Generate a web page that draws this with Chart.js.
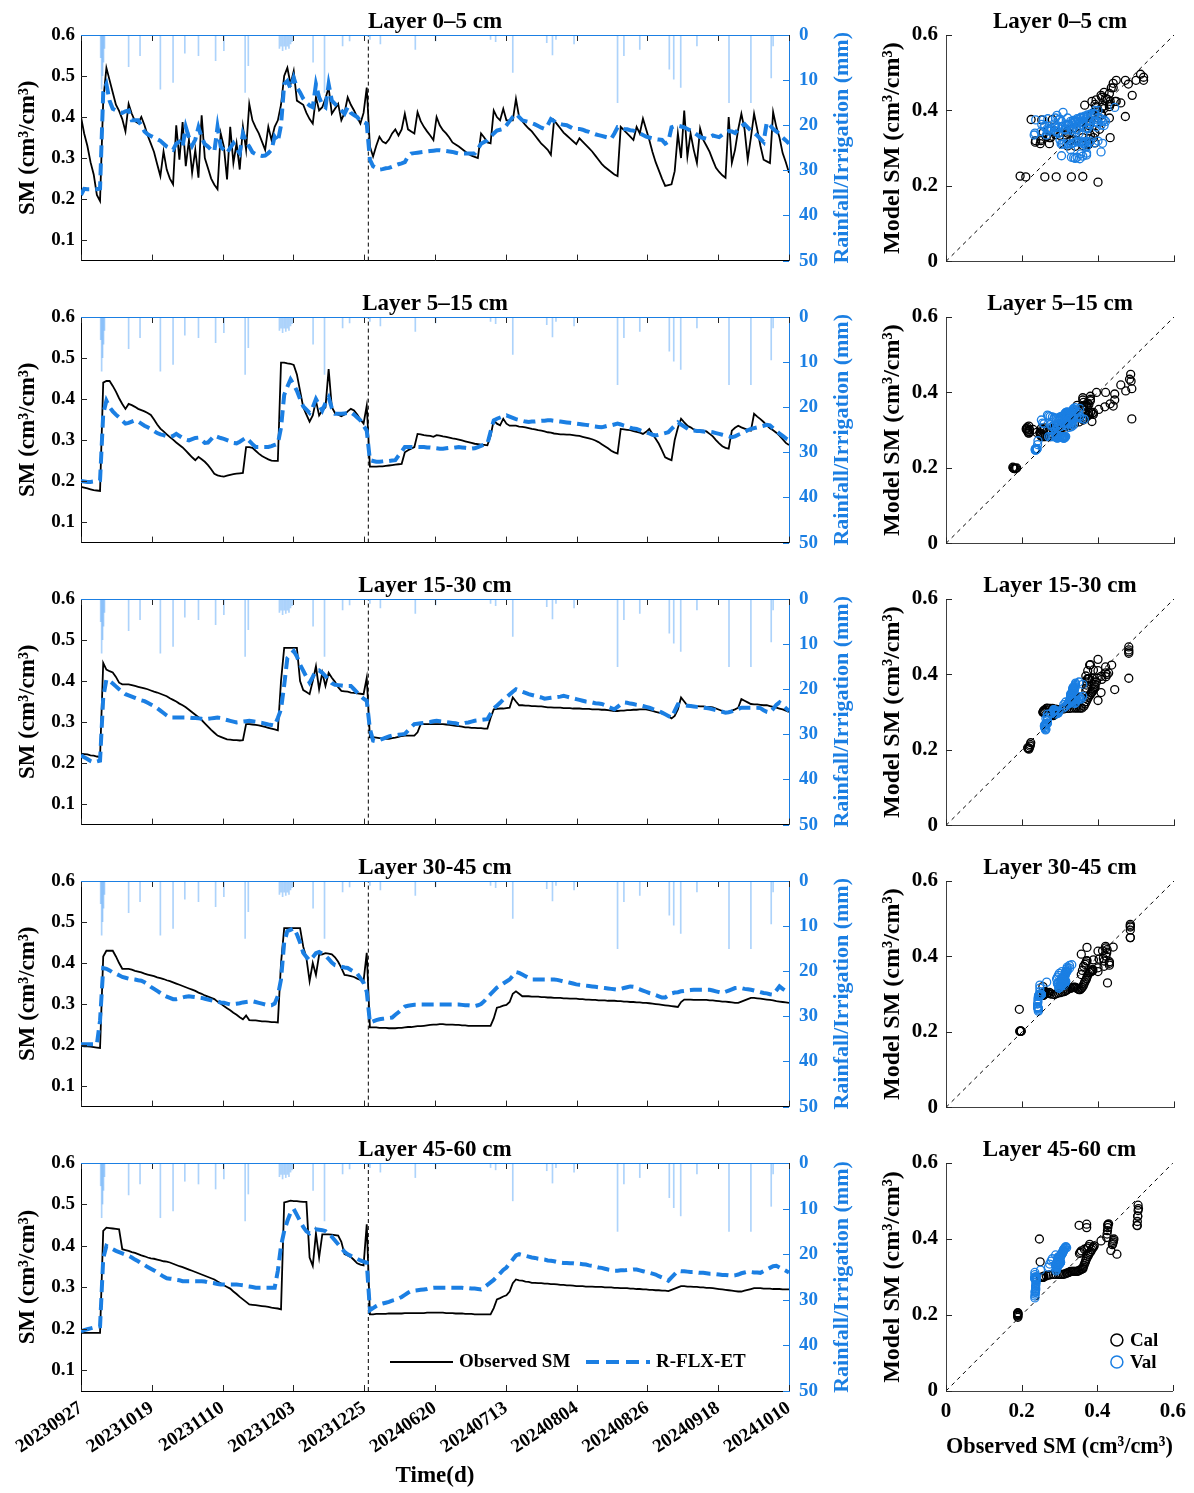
<!DOCTYPE html>
<html>
<head>
<meta charset="utf-8">
<script src="https://cdn.jsdelivr.net/npm/chart.js@4.4.0/dist/chart.umd.min.js"></script>
<style>
  body { margin: 0; background: #fff; }
  #wrap { position: relative; width: 1194px; height: 1493px; background: #fff; }
  canvas { position: absolute; }
</style>
</head>
<body>
<div id="wrap"></div>
<script>
// ---- data (daily values, day index 0..223) ----
let layerNames = ["Layer 0–5 cm", "Layer 5–15 cm", "Layer 15-30 cm", "Layer 30-45 cm", "Layer 45-60 cm"];
let tickLabels = ["20230927", "20231019", "20231110", "20231203", "20231225", "20240620",
                  "20240713", "20240804", "20240826", "20240918", "20241010"];
let tickDays = [0, 22.3, 44.6, 66.9, 89.2, 111.5, 133.8, 156.1, 178.4, 200.7, 223];
let smTicks = [0.1, 0.2, 0.3, 0.4, 0.5, 0.6];
let rainTicks = [0, 10, 20, 30, 40, 50];
let scatterTicks = [0, 0.2, 0.4, 0.6];
let splitDay = 90.5;
let calEnd = 90;

let obs05 = [
  0.40,0.36,0.33,0.29,0.26,0.21,0.195,0.44,0.52,0.49,
  0.46,0.43,0.415,0.395,0.365,0.432,0.408,0.39,0.385,0.40,
  0.38,0.355,0.335,0.315,0.285,0.256,0.316,0.272,0.25,0.236,
  0.38,0.296,0.388,0.28,0.344,0.264,0.32,0.252,0.404,0.30,
  0.275,0.25,0.235,0.224,0.36,0.328,0.248,0.376,0.288,0.336,
  0.272,0.376,0.32,0.432,0.392,0.375,0.36,0.34,0.32,0.376,
  0.344,0.376,0.392,0.43,0.50,0.52,0.48,0.512,0.44,0.435,
  0.43,0.41,0.395,0.384,0.448,0.416,0.424,0.445,0.472,0.408,
  0.42,0.432,0.392,0.41,0.448,0.43,0.416,0.40,0.384,0.41,
  0.472,0.328,0.304,0.33,0.352,0.34,0.336,0.345,0.36,0.37,
  0.355,0.37,0.408,0.37,0.365,0.36,0.412,0.39,0.376,0.365,
  0.355,0.344,0.40,0.38,0.368,0.36,0.35,0.338,0.333,0.328,
  0.322,0.316,0.31,0.306,0.303,0.30,0.36,0.35,0.338,0.336,
  0.416,0.40,0.392,0.42,0.392,0.392,0.392,0.444,0.40,0.39,
  0.38,0.372,0.365,0.355,0.345,0.335,0.328,0.32,0.308,0.392,
  0.382,0.372,0.362,0.355,0.348,0.341,0.334,0.348,0.34,0.332,
  0.324,0.316,0.306,0.296,0.286,0.278,0.272,0.266,0.26,0.256,
  0.376,0.368,0.36,0.352,0.344,0.376,0.36,0.396,0.37,0.344,
  0.315,0.29,0.27,0.25,0.232,0.234,0.236,0.268,0.36,0.30,
  0.416,0.304,0.36,0.32,0.288,0.372,0.344,0.33,0.315,0.295,
  0.276,0.266,0.258,0.252,0.40,0.288,0.32,0.37,0.408,0.37,
  0.296,0.35,0.408,0.37,0.33,0.296,0.292,0.288,0.412,0.376,
  0.35,0.312,0.29,0.264
];
let mod05 = [
  0.21,0.225,0.224,0.224,0.224,0.224,0.226,0.46,0.48,0.44,
  0.42,0.416,0.412,0.41,0.414,0.416,0.392,0.392,0.392,0.38,
  0.365,0.358,0.354,0.35,0.346,0.342,0.335,0.328,0.324,0.32,
  0.335,0.34,0.328,0.376,0.35,0.33,0.345,0.375,0.35,0.334,
  0.328,0.32,0.316,0.376,0.328,0.32,0.312,0.325,0.336,0.322,
  0.312,0.36,0.34,0.328,0.314,0.31,0.307,0.305,0.306,0.312,
  0.32,0.352,0.34,0.38,0.48,0.488,0.47,0.496,0.472,0.46,
  0.445,0.435,0.428,0.424,0.48,0.448,0.43,0.424,0.48,0.44,
  0.432,0.424,0.416,0.408,0.424,0.41,0.405,0.40,0.39,0.388,
  0.384,0.296,0.28,0.276,0.272,0.273,0.275,0.276,0.279,0.282,
  0.285,0.287,0.29,0.304,0.311,0.312,0.313,0.314,0.315,0.316,
  0.317,0.318,0.319,0.319,0.318,0.317,0.316,0.315,0.313,0.311,
  0.311,0.311,0.311,0.311,0.311,0.322,0.335,0.339,0.343,0.352,
  0.36,0.367,0.369,0.371,0.38,0.39,0.40,0.408,0.40,0.392,
  0.39,0.388,0.385,0.382,0.378,0.374,0.371,0.38,0.395,0.39,
  0.384,0.383,0.381,0.38,0.376,0.372,0.371,0.371,0.369,0.366,
  0.364,0.361,0.358,0.356,0.354,0.352,0.35,0.347,0.36,0.375,
  0.373,0.371,0.37,0.368,0.367,0.363,0.36,0.356,0.352,0.35,
  0.348,0.346,0.345,0.344,0.335,0.34,0.375,0.378,0.379,0.377,
  0.375,0.371,0.367,0.363,0.357,0.351,0.349,0.347,0.351,0.355,
  0.353,0.351,0.357,0.363,0.366,0.365,0.361,0.37,0.378,0.383,
  0.375,0.367,0.361,0.355,0.347,0.339,0.387,0.38,0.371,0.365,
  0.359,0.35,0.343,0.335
];
let obs515 = [
  0.186,0.184,0.182,0.18,0.178,0.177,0.176,0.44,0.444,0.444,
  0.432,0.418,0.402,0.388,0.376,0.388,0.385,0.381,0.376,0.373,
  0.37,0.366,0.361,0.35,0.338,0.328,0.321,0.314,0.307,0.301,
  0.294,0.288,0.282,0.274,0.266,0.258,0.251,0.259,0.253,0.247,
  0.239,0.229,0.218,0.214,0.212,0.211,0.213,0.215,0.217,0.218,
  0.219,0.22,0.283,0.283,0.281,0.274,0.267,0.261,0.257,0.253,
  0.25,0.249,0.249,0.489,0.489,0.487,0.486,0.483,0.46,0.42,
  0.38,0.362,0.345,0.36,0.396,0.36,0.372,0.38,0.473,0.38,
  0.366,0.362,0.358,0.362,0.37,0.376,0.372,0.362,0.35,0.34,
  0.384,0.235,0.235,0.235,0.236,0.236,0.237,0.238,0.239,0.24,
  0.241,0.242,0.27,0.275,0.279,0.283,0.315,0.314,0.312,0.311,
  0.31,0.308,0.312,0.311,0.309,0.308,0.306,0.304,0.303,0.301,
  0.299,0.297,0.295,0.293,0.291,0.29,0.289,0.288,0.287,0.31,
  0.348,0.34,0.336,0.352,0.34,0.335,0.335,0.335,0.333,0.332,
  0.331,0.329,0.327,0.326,0.324,0.323,0.321,0.319,0.318,0.316,
  0.315,0.314,0.314,0.313,0.313,0.312,0.311,0.31,0.308,0.306,
  0.304,0.302,0.299,0.295,0.29,0.285,0.28,0.274,0.27,0.267,
  0.327,0.326,0.325,0.324,0.322,0.32,0.318,0.315,0.32,0.327,
  0.315,0.303,0.291,0.275,0.258,0.254,0.251,0.3,0.33,0.352,
  0.343,0.335,0.331,0.326,0.323,0.323,0.323,0.321,0.315,0.309,
  0.3,0.292,0.285,0.281,0.279,0.323,0.33,0.335,0.331,0.328,
  0.325,0.323,0.364,0.357,0.351,0.344,0.336,0.329,0.324,0.318,
  0.311,0.302,0.293,0.288
];
let mod515 = [
  0.2,0.199,0.198,0.198,0.199,0.2,0.202,0.364,0.396,0.38,
  0.37,0.362,0.355,0.347,0.34,0.342,0.345,0.348,0.345,0.34,
  0.335,0.331,0.327,0.322,0.317,0.314,0.312,0.309,0.307,0.31,
  0.315,0.31,0.305,0.301,0.299,0.302,0.305,0.306,0.3,0.293,
  0.294,0.302,0.311,0.308,0.305,0.303,0.3,0.297,0.293,0.292,
  0.296,0.301,0.306,0.298,0.29,0.283,0.283,0.283,0.283,0.283,
  0.285,0.288,0.291,0.33,0.41,0.43,0.448,0.435,0.42,0.4,
  0.382,0.374,0.366,0.38,0.4,0.386,0.372,0.39,0.404,0.378,
  0.364,0.364,0.364,0.365,0.366,0.368,0.362,0.355,0.348,0.335,
  0.323,0.251,0.249,0.247,0.247,0.248,0.249,0.249,0.25,0.251,
  0.262,0.272,0.283,0.283,0.283,0.283,0.283,0.283,0.283,0.282,
  0.282,0.281,0.28,0.279,0.279,0.28,0.281,0.281,0.282,0.283,
  0.282,0.281,0.28,0.279,0.28,0.283,0.286,0.289,0.291,0.32,
  0.348,0.352,0.355,0.358,0.36,0.357,0.354,0.351,0.349,0.347,
  0.345,0.344,0.345,0.345,0.346,0.347,0.347,0.348,0.348,0.347,
  0.346,0.345,0.344,0.343,0.342,0.341,0.34,0.339,0.338,0.337,
  0.336,0.334,0.333,0.332,0.331,0.333,0.335,0.336,0.338,0.34,
  0.338,0.335,0.333,0.33,0.328,0.327,0.324,0.321,0.319,0.316,
  0.313,0.311,0.313,0.315,0.317,0.319,0.327,0.335,0.343,0.338,
  0.333,0.328,0.323,0.323,0.322,0.322,0.321,0.32,0.32,0.319,
  0.317,0.315,0.313,0.311,0.309,0.307,0.309,0.313,0.316,0.32,
  0.324,0.327,0.329,0.331,0.333,0.335,0.337,0.336,0.329,0.322,
  0.316,0.31,0.304,0.3
];
let obs1530 = [
  0.223,0.222,0.221,0.219,0.218,0.216,0.215,0.444,0.428,0.424,
  0.421,0.41,0.396,0.392,0.392,0.392,0.39,0.388,0.386,0.384,
  0.382,0.38,0.377,0.374,0.372,0.369,0.366,0.363,0.358,0.354,
  0.35,0.345,0.341,0.336,0.33,0.324,0.318,0.312,0.305,0.297,
  0.289,0.281,0.274,0.267,0.264,0.261,0.258,0.257,0.256,0.256,
  0.255,0.256,0.295,0.295,0.294,0.293,0.292,0.29,0.288,0.286,
  0.284,0.282,0.28,0.40,0.481,0.481,0.481,0.481,0.481,0.40,
  0.378,0.373,0.368,0.40,0.436,0.38,0.42,0.388,0.42,0.408,
  0.398,0.385,0.376,0.375,0.374,0.372,0.371,0.37,0.369,0.368,
  0.408,0.263,0.263,0.262,0.261,0.26,0.259,0.259,0.261,0.262,
  0.264,0.266,0.267,0.267,0.267,0.267,0.275,0.295,0.295,0.295,
  0.295,0.295,0.295,0.295,0.295,0.294,0.293,0.292,0.291,0.29,
  0.289,0.287,0.287,0.286,0.286,0.285,0.285,0.284,0.284,0.31,
  0.331,0.332,0.333,0.333,0.334,0.335,0.36,0.35,0.341,0.341,
  0.34,0.34,0.339,0.339,0.338,0.338,0.337,0.336,0.336,0.335,
  0.335,0.335,0.334,0.334,0.334,0.333,0.333,0.333,0.332,0.332,
  0.332,0.331,0.331,0.331,0.33,0.33,0.329,0.328,0.327,0.327,
  0.328,0.328,0.329,0.329,0.33,0.33,0.331,0.331,0.331,0.329,
  0.327,0.325,0.323,0.321,0.318,0.314,0.309,0.315,0.331,0.36,
  0.35,0.34,0.34,0.339,0.339,0.338,0.338,0.337,0.337,0.336,
  0.333,0.33,0.327,0.324,0.325,0.328,0.331,0.335,0.356,0.352,
  0.348,0.344,0.343,0.343,0.342,0.341,0.341,0.339,0.337,0.335,
  0.333,0.331,0.328,0.325
];
let mod1530 = [
  0.219,0.214,0.21,0.205,0.202,0.204,0.206,0.36,0.404,0.4,
  0.394,0.387,0.38,0.374,0.368,0.365,0.362,0.359,0.356,0.353,
  0.351,0.347,0.343,0.339,0.334,0.328,0.322,0.316,0.311,0.311,
  0.311,0.311,0.311,0.311,0.311,0.31,0.31,0.309,0.308,0.307,
  0.308,0.309,0.31,0.311,0.31,0.307,0.305,0.303,0.301,0.299,
  0.3,0.301,0.302,0.303,0.302,0.301,0.299,0.298,0.296,0.294,
  0.293,0.291,0.31,0.331,0.39,0.456,0.465,0.473,0.46,0.44,
  0.425,0.41,0.396,0.41,0.425,0.426,0.42,0.412,0.404,0.395,
  0.391,0.39,0.389,0.388,0.388,0.388,0.38,0.372,0.364,0.357,
  0.352,0.283,0.255,0.253,0.256,0.259,0.262,0.265,0.267,0.268,
  0.269,0.27,0.271,0.279,0.287,0.295,0.296,0.297,0.298,0.299,
  0.3,0.302,0.303,0.302,0.301,0.3,0.299,0.298,0.297,0.295,
  0.296,0.298,0.299,0.301,0.303,0.304,0.305,0.306,0.307,0.32,
  0.333,0.34,0.347,0.355,0.36,0.367,0.374,0.38,0.377,0.374,
  0.371,0.368,0.366,0.364,0.362,0.36,0.357,0.358,0.359,0.36,
  0.361,0.362,0.364,0.362,0.36,0.358,0.356,0.354,0.352,0.35,
  0.349,0.348,0.346,0.345,0.344,0.341,0.337,0.334,0.331,0.337,
  0.343,0.348,0.347,0.345,0.344,0.342,0.341,0.339,0.337,0.335,
  0.332,0.33,0.327,0.323,0.319,0.315,0.311,0.327,0.343,0.342,
  0.341,0.34,0.339,0.338,0.337,0.336,0.335,0.334,0.333,0.331,
  0.329,0.327,0.325,0.323,0.324,0.326,0.329,0.332,0.335,0.335,
  0.335,0.335,0.335,0.335,0.334,0.329,0.325,0.323,0.332,0.342,
  0.348,0.341,0.334,0.327
];
let obs3045 = [
  0.198,0.197,0.197,0.196,0.195,0.194,0.193,0.416,0.43,0.43,
  0.43,0.416,0.4,0.386,0.386,0.386,0.384,0.381,0.379,0.377,
  0.374,0.372,0.37,0.368,0.365,0.363,0.361,0.358,0.356,0.353,
  0.35,0.347,0.344,0.341,0.338,0.335,0.332,0.328,0.325,0.321,
  0.318,0.315,0.312,0.306,0.301,0.295,0.29,0.285,0.279,0.274,
  0.268,0.263,0.272,0.261,0.26,0.26,0.259,0.258,0.258,0.257,
  0.256,0.256,0.255,0.40,0.485,0.485,0.485,0.485,0.485,0.485,
  0.44,0.412,0.356,0.40,0.371,0.42,0.421,0.424,0.423,0.421,
  0.414,0.403,0.388,0.371,0.37,0.368,0.366,0.362,0.359,0.356,
  0.425,0.243,0.243,0.243,0.242,0.242,0.242,0.241,0.241,0.241,
  0.242,0.242,0.243,0.244,0.244,0.245,0.246,0.246,0.247,0.248,
  0.249,0.25,0.25,0.251,0.251,0.25,0.25,0.25,0.249,0.249,
  0.248,0.248,0.247,0.247,0.247,0.247,0.247,0.247,0.247,0.247,
  0.265,0.291,0.293,0.296,0.298,0.305,0.325,0.331,0.325,0.319,
  0.319,0.319,0.318,0.318,0.318,0.317,0.317,0.316,0.316,0.315,
  0.315,0.315,0.314,0.314,0.313,0.313,0.313,0.312,0.312,0.311,
  0.311,0.31,0.31,0.309,0.309,0.309,0.308,0.308,0.308,0.307,
  0.307,0.306,0.306,0.305,0.305,0.304,0.304,0.303,0.303,0.302,
  0.301,0.3,0.299,0.298,0.297,0.296,0.295,0.294,0.293,0.305,
  0.311,0.311,0.311,0.31,0.31,0.31,0.31,0.31,0.309,0.309,
  0.308,0.307,0.306,0.306,0.305,0.304,0.303,0.303,0.306,0.309,
  0.312,0.315,0.315,0.314,0.313,0.312,0.311,0.31,0.309,0.307,
  0.306,0.305,0.304,0.303
];
let mod3045 = [
  0.202,0.202,0.202,0.202,0.202,0.202,0.26,0.388,0.386,0.382,
  0.377,0.374,0.37,0.366,0.364,0.362,0.361,0.36,0.358,0.357,
  0.353,0.348,0.342,0.337,0.332,0.327,0.322,0.318,0.315,0.312,
  0.312,0.314,0.316,0.318,0.319,0.318,0.317,0.316,0.315,0.313,
  0.311,0.309,0.307,0.306,0.304,0.303,0.301,0.299,0.3,0.301,
  0.302,0.304,0.305,0.306,0.307,0.305,0.303,0.301,0.299,0.297,
  0.297,0.301,0.32,0.36,0.45,0.478,0.481,0.485,0.47,0.45,
  0.425,0.415,0.406,0.414,0.424,0.427,0.423,0.418,0.41,0.401,
  0.395,0.393,0.391,0.389,0.388,0.383,0.379,0.374,0.363,0.352,
  0.33,0.255,0.258,0.261,0.263,0.264,0.265,0.266,0.267,0.274,
  0.28,0.287,0.294,0.296,0.297,0.298,0.298,0.299,0.299,0.299,
  0.299,0.299,0.299,0.299,0.299,0.299,0.299,0.299,0.299,0.299,
  0.298,0.297,0.297,0.296,0.295,0.297,0.3,0.307,0.316,0.324,
  0.332,0.34,0.345,0.35,0.355,0.36,0.369,0.378,0.376,0.372,
  0.368,0.364,0.36,0.36,0.36,0.36,0.36,0.36,0.36,0.36,
  0.359,0.357,0.355,0.354,0.352,0.35,0.348,0.347,0.346,0.345,
  0.344,0.343,0.342,0.341,0.34,0.339,0.338,0.337,0.336,0.335,
  0.337,0.339,0.341,0.343,0.342,0.339,0.336,0.333,0.33,0.327,
  0.325,0.322,0.319,0.316,0.316,0.321,0.326,0.328,0.329,0.331,
  0.332,0.333,0.334,0.335,0.335,0.335,0.335,0.335,0.335,0.333,
  0.331,0.329,0.327,0.33,0.333,0.336,0.339,0.34,0.339,0.337,
  0.336,0.335,0.333,0.331,0.329,0.327,0.326,0.324,0.323,0.333,
  0.343,0.337,0.332,0.327
];
let obs4560 = [
  0.19,0.19,0.19,0.19,0.19,0.19,0.19,0.436,0.444,0.443,
  0.442,0.441,0.44,0.392,0.39,0.388,0.385,0.383,0.38,0.377,
  0.375,0.372,0.37,0.369,0.367,0.365,0.363,0.362,0.36,0.357,
  0.354,0.351,0.349,0.346,0.343,0.34,0.337,0.334,0.331,0.328,
  0.325,0.322,0.319,0.314,0.31,0.305,0.301,0.297,0.29,0.284,
  0.277,0.271,0.265,0.259,0.258,0.257,0.256,0.255,0.254,0.253,
  0.251,0.25,0.249,0.247,0.505,0.507,0.509,0.508,0.508,0.507,
  0.506,0.506,0.372,0.352,0.43,0.372,0.428,0.428,0.428,0.427,
  0.426,0.425,0.41,0.38,0.377,0.373,0.366,0.358,0.355,0.353,
  0.452,0.235,0.235,0.236,0.236,0.236,0.236,0.237,0.237,0.237,
  0.237,0.237,0.238,0.238,0.238,0.238,0.238,0.238,0.238,0.239,
  0.239,0.239,0.239,0.239,0.239,0.238,0.238,0.238,0.237,0.237,
  0.237,0.236,0.236,0.236,0.235,0.235,0.235,0.235,0.235,0.235,
  0.25,0.271,0.274,0.278,0.281,0.29,0.31,0.319,0.317,0.316,
  0.314,0.313,0.311,0.311,0.31,0.31,0.309,0.309,0.308,0.308,
  0.307,0.306,0.306,0.305,0.305,0.304,0.303,0.303,0.303,0.302,
  0.302,0.302,0.301,0.301,0.301,0.3,0.3,0.3,0.299,0.299,
  0.298,0.298,0.298,0.297,0.297,0.296,0.296,0.295,0.295,0.294,
  0.294,0.293,0.293,0.292,0.292,0.291,0.294,0.297,0.3,0.303,
  0.303,0.302,0.302,0.301,0.301,0.3,0.3,0.299,0.299,0.298,
  0.297,0.296,0.295,0.294,0.293,0.292,0.291,0.29,0.29,0.292,
  0.294,0.296,0.298,0.298,0.298,0.297,0.297,0.297,0.296,0.296,
  0.296,0.295,0.295,0.295
];
let mod4560 = [
  0.194,0.197,0.199,0.201,0.203,0.205,0.206,0.37,0.40,0.396,
  0.392,0.388,0.385,0.382,0.379,0.376,0.372,0.367,0.363,0.358,
  0.354,0.349,0.345,0.341,0.336,0.331,0.326,0.322,0.321,0.32,
  0.318,0.317,0.315,0.315,0.315,0.315,0.315,0.315,0.315,0.314,
  0.312,0.311,0.31,0.308,0.307,0.307,0.307,0.307,0.307,0.307,
  0.306,0.305,0.303,0.302,0.301,0.299,0.299,0.299,0.299,0.299,
  0.299,0.299,0.34,0.40,0.436,0.46,0.48,0.489,0.475,0.46,
  0.446,0.435,0.43,0.436,0.44,0.439,0.438,0.436,0.43,0.422,
  0.413,0.404,0.395,0.386,0.38,0.376,0.373,0.369,0.365,0.362,
  0.36,0.245,0.25,0.255,0.259,0.261,0.263,0.265,0.268,0.27,
  0.273,0.277,0.282,0.287,0.291,0.292,0.293,0.294,0.295,0.296,
  0.298,0.299,0.299,0.299,0.299,0.299,0.299,0.299,0.299,0.299,
  0.299,0.298,0.298,0.297,0.297,0.296,0.295,0.3,0.306,0.312,
  0.318,0.326,0.334,0.342,0.348,0.358,0.367,0.377,0.38,0.378,
  0.376,0.374,0.372,0.371,0.369,0.368,0.367,0.365,0.364,0.363,
  0.361,0.36,0.359,0.359,0.358,0.358,0.357,0.357,0.356,0.355,
  0.353,0.352,0.35,0.348,0.347,0.345,0.343,0.342,0.34,0.34,
  0.341,0.341,0.342,0.342,0.343,0.343,0.341,0.339,0.337,0.335,
  0.333,0.331,0.327,0.324,0.32,0.316,0.324,0.332,0.34,0.339,
  0.339,0.338,0.337,0.337,0.336,0.335,0.335,0.334,0.333,0.333,
  0.332,0.331,0.33,0.33,0.329,0.328,0.329,0.331,0.334,0.336,
  0.338,0.337,0.336,0.336,0.335,0.339,0.343,0.347,0.351,0.352,
  0.348,0.344,0.34,0.336
];
let rainDays = [6.2, 6.5, 6.8, 7.1, 7.4, 15, 18.6, 25, 29, 32.7, 37, 42.4, 45, 51.7, 52.7,
                62.5, 63, 63.5, 64, 64.5, 65, 65.5, 66, 66.5, 73.1, 76.7, 82.4, 84.6, 91, 94.3,
                105.3, 111.7, 129, 130.6, 136, 146.7, 148.5, 149.6, 155.3, 169, 171, 176,
                185.3, 186.7, 188.9, 194, 204.1, 211, 217.4, 218];
let rainMM = [5, 12, 9, 6, 3, 7, 4.6, 12, 10.5, 4, 4.6, 5.7, 3.5, 12.7, 6.8,
              3, 2.5, 3.5, 2.5, 3.2, 2.5, 3, 2, 1.5, 6, 12.7, 2.4, 1.3, 1, 2,
              3.2, 1.3, 1, 1.5, 8.3, 1.7, 4.4, 1, 2, 15, 4.6, 3.2,
              7.6, 9.8, 11.6, 2.4, 15, 15, 9.5, 2.4];

let observed = [obs05, obs515, obs1530, obs3045, obs4560];
let modeled = [mod05, mod515, mod1530, mod3045, mod4560];
let days = obs05.map((v, i) => i);

// ---- style ----
let blue = "#1b7fe3";
let serif = "'Liberation Serif', 'Times New Roman', serif";
Chart.defaults.font.family = serif;
Chart.defaults.font.weight = "bold";
Chart.defaults.font.size = 19;
Chart.defaults.color = "#000";

let wrap = document.getElementById("wrap");

function addCanvas(left, top, w, h) {
    let c = document.createElement("canvas");
    c.style.left = left + "px";
    c.style.top = top + "px";
    c.width = w;
    c.height = h;
    wrap.appendChild(c);
    return c;
}

function seg(ctx, x1, y1, x2, y2) {
    ctx.beginPath();
    ctx.moveTo(x1, y1);
    ctx.lineTo(x2, y2);
    ctx.stroke();
}

// inward ticks, frame, panel title, legends
let decor = {
    id: "decor",
    afterDatasetsDraw(chart, args, o) {
        let ctx = chart.ctx;
        let a = chart.chartArea;
        let sx = chart.scales.x, sy = chart.scales.y, sr = chart.scales.y2;
        ctx.save();
        ctx.lineWidth = 1;
        ctx.strokeStyle = "#262626";
        sx.ticks.forEach(t => {
            let px = Math.round(sx.getPixelForValue(t.value)) + 0.5;
            seg(ctx, px, a.bottom, px, a.bottom - 6);
            if (sr) seg(ctx, px, a.top, px, a.top + 6);
        });
        sy.ticks.forEach(t => {
            let py = Math.round(sy.getPixelForValue(t.value)) + 0.5;
            seg(ctx, a.left, py, a.left + 6, py);
        });
        if (sr) {
            ctx.strokeStyle = blue;
            sr.ticks.forEach(t => {
                let py = Math.round(sr.getPixelForValue(t.value)) + 0.5;
                seg(ctx, a.right, py, a.right - 6, py);
            });
            seg(ctx, a.left, a.top + 0.5, a.right, a.top + 0.5);
            ctx.save();
            ctx.fillStyle = blue;
            ctx.font = "bold 22px " + serif;
            ctx.textAlign = "center";
            ctx.textBaseline = "middle";
            ctx.translate(842, (a.top + a.bottom) / 2);
            ctx.rotate(-Math.PI / 2);
            ctx.fillText("Rainfall/Irrigation (mm)", 0, 0);
            ctx.restore();
        }
        // panel title
        ctx.fillStyle = "#000";
        ctx.font = "bold 23px " + serif;
        ctx.textAlign = "center";
        ctx.textBaseline = "alphabetic";
        ctx.fillText(o.title, (a.left + a.right) / 2, a.top - 7);

        let ds = chart.data.datasets;
        ctx.font = "bold 19px " + serif;
        ctx.textAlign = "left";
        ctx.textBaseline = "middle";
        if (o.lineLegend) {
            let ly = a.bottom - 29;
            ctx.strokeStyle = "#000";
            ctx.lineWidth = 2;
            seg(ctx, 390, ly, 453, ly);
            ctx.fillText(ds[1].label, 459, ly);
            ctx.strokeStyle = blue;
            ctx.lineWidth = 4;
            ctx.setLineDash([13, 7]);
            seg(ctx, 586, ly, 650, ly);
            ctx.setLineDash([]);
            ctx.fillText(ds[0].label, 656, ly);
        }
        if (o.pointLegend) {
            [[ds[2], a.bottom - 51], [ds[1], a.bottom - 29]].forEach(([d, ly]) => {
                ctx.strokeStyle = d.borderColor;
                ctx.lineWidth = 1.5;
                ctx.beginPath();
                ctx.arc(a.right - 56, ly, 6, 0, Math.PI * 2);
                ctx.stroke();
                ctx.fillText(d.label, a.right - 43, ly + 1);
            });
        }
        ctx.restore();
    }
};

function seriesChart(i) {
    let last = i === 4;
    let c = addCanvas(0, 282 * i, 860, last ? 365 : 282);
    let obs = observed[i];
    let mod = modeled[i];
    new Chart(c, {
        type: "line",
        data: {
            datasets: [
                {
                    label: "R-FLX-ET",
                    data: days.map((d, k) => ({ x: d, y: mod[k] })),
                    borderColor: blue, borderWidth: 4, borderDash: [12, 6],
                    pointRadius: 0, tension: 0, yAxisID: "y", order: 0
                },
                {
                    label: "Observed SM",
                    data: days.map((d, k) => ({ x: d, y: obs[k] })),
                    borderColor: "#000", borderWidth: 1.8,
                    pointRadius: 0, tension: 0, yAxisID: "y", order: 1
                },
                {
                    label: "Cal/Val split",
                    data: [{ x: splitDay, y: 0.05 }, { x: splitDay, y: 0.6 }],
                    borderColor: "#000", borderWidth: 1, borderDash: [4, 3],
                    pointRadius: 0, yAxisID: "y", order: 2
                },
                {
                    type: "bar",
                    label: "Rainfall/Irrigation",
                    data: rainDays.map((d, k) => ({ x: d, y: rainMM[k] })),
                    backgroundColor: "rgba(60,150,245,0.42)",
                    barThickness: 1, yAxisID: "y2", order: 3
                }
            ]
        },
        options: {
            responsive: false,
            devicePixelRatio: 1,
            animation: false,
            layout: { padding: { top: 35, left: 0, right: 0, bottom: 0 } },
            plugins: {
                legend: { display: false },
                tooltip: { enabled: false },
                decor: { title: layerNames[i], lineLegend: last }
            },
            scales: {
                x: {
                    type: "linear", min: 0, max: 223, offset: false,
                    afterBuildTicks: s => { s.ticks = tickDays.map(v => ({ value: v })); },
                    afterFit: s => { s.height = last ? 102 : 19; },
                    grid: { display: false, drawTicks: false },
                    border: { color: "#000", width: 1 },
                    ticks: {
                        display: last, autoSkip: false, minRotation: 34, maxRotation: 34,
                        padding: 6, font: { size: 19 },
                        callback: (v, k) => tickLabels[k]
                    },
                    title: { display: last, text: "Time(d)", font: { size: 23 }, padding: { top: 0, bottom: 3 } }
                },
                y: {
                    position: "left", min: 0.05, max: 0.6,
                    afterBuildTicks: s => { s.ticks = smTicks.map(v => ({ value: v })); },
                    afterFit: s => { s.width = 81; },
                    grid: { display: false, drawTicks: false },
                    border: { color: "#000", width: 1 },
                    ticks: { padding: 6, callback: v => v.toFixed(1) },
                    title: { display: true, text: "SM (cm³/cm³)", font: { size: 23 }, padding: { top: 14, bottom: 0 } }
                },
                y2: {
                    position: "right", reverse: true, min: 0, max: 50,
                    afterBuildTicks: s => { s.ticks = rainTicks.map(v => ({ value: v })); },
                    afterFit: s => { s.width = 71; },
                    grid: { display: false, drawTicks: false },
                    border: { color: blue, width: 1 },
                    ticks: { color: blue, padding: 10 }
                }
            }
        },
        plugins: [decor]
    });
}

function scatterChart(i) {
    let last = i === 4;
    let c = addCanvas(860, 282 * i, 334, last ? 365 : 282);
    let obs = observed[i];
    let mod = modeled[i];
    let cal = [];
    let val = [];
    days.forEach((d, k) => {
        (d <= calEnd ? cal : val).push({ x: obs[k], y: mod[k] });
    });
    new Chart(c, {
        type: "scatter",
        data: {
            datasets: [
                {
                    label: "1:1",
                    data: [{ x: 0, y: 0 }, { x: 0.6, y: 0.6 }],
                    showLine: true, borderColor: "#000", borderWidth: 1, borderDash: [4, 4],
                    pointRadius: 0
                },
                {
                    label: "Val", data: val,
                    borderColor: blue, backgroundColor: "rgba(0,0,0,0)",
                    pointRadius: 4, borderWidth: 1.3
                },
                {
                    label: "Cal", data: cal,
                    borderColor: "#000", backgroundColor: "rgba(0,0,0,0)",
                    pointRadius: 4, borderWidth: 1.3
                }
            ]
        },
        options: {
            responsive: false,
            devicePixelRatio: 1,
            animation: false,
            layout: { padding: { top: 35, left: 0, right: 20, bottom: 0 } },
            plugins: {
                legend: { display: false },
                tooltip: { enabled: false },
                decor: { title: layerNames[i], pointLegend: last }
            },
            scales: {
                x: {
                    type: "linear", min: 0, max: 0.6,
                    afterBuildTicks: s => { s.ticks = scatterTicks.map(v => ({ value: v })); },
                    afterFit: s => { s.height = last ? 102 : 19; },
                    grid: { display: false, drawTicks: false },
                    border: { color: "#404040", width: 1 },
                    ticks: { display: last, padding: 8, font: { size: 21 }, callback: v => v === 0 ? "0" : v.toFixed(1) },
                    title: { display: last, text: "Observed SM (cm³/cm³)", font: { size: 24 }, padding: { top: 0, bottom: 32 } }
                },
                y: {
                    type: "linear", min: 0, max: 0.6,
                    afterBuildTicks: s => { s.ticks = scatterTicks.map(v => ({ value: v })); },
                    afterFit: s => { s.width = 86; },
                    grid: { display: false, drawTicks: false },
                    border: { color: "#404040", width: 1 },
                    ticks: { padding: 8, font: { size: 21 }, callback: v => v === 0 ? "0" : v.toFixed(1) },
                    title: { display: true, text: "Model SM (cm³/cm³)", font: { size: 24 }, padding: { top: 18, bottom: 0 } }
                }
            }
        },
        plugins: [decor]
    });
}

for (let i = 0; i < 5; i++) {
    seriesChart(i);
    scatterChart(i);
}
</script>
</body>
</html>
